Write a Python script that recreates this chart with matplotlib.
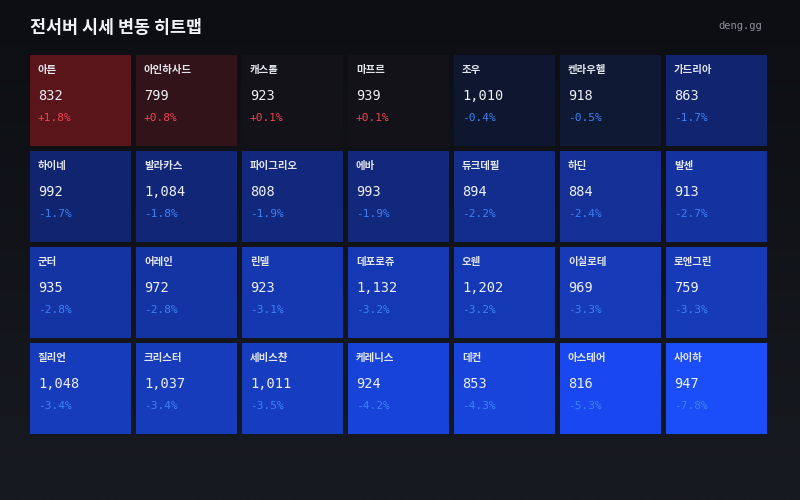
import numpy as np
import matplotlib
matplotlib.use("Agg")
import matplotlib.pyplot as plt
from matplotlib.colors import LinearSegmentedColormap, Normalize
from matplotlib.patches import Rectangle

plt.rcParams['font.family'] = ['Noto Sans CJK KR', 'DejaVu Sans']

servers = ["아튼", "아인하사드", "캐스톨", "마프르", "조우", "켄라우헬", "가드리아",
           "하이네", "발라카스", "파이그리오", "에바", "듀크데필", "하딘", "발센",
           "군터", "어레인", "린델", "데포로쥬", "오웬", "이실로테", "로엔그린",
           "질리언", "크리스터", "세비스챤", "케레니스", "데컨", "아스테어", "사이하"]
prices = [832, 799, 923, 939, 1010, 918, 863,
          992, 1084, 808, 993, 894, 884, 913,
          935, 972, 923, 1132, 1202, 969, 759,
          1048, 1037, 1011, 924, 853, 816, 947]
changes = [1.8, 0.8, 0.1, 0.1, -0.4, -0.5, -1.7,
           -1.7, -1.8, -1.9, -1.9, -2.2, -2.4, -2.7,
           -2.8, -2.8, -3.1, -3.2, -3.2, -3.3, -3.3,
           -3.4, -3.4, -3.5, -4.2, -4.3, -5.3, -7.8]
ncols = 7

vmin, vmax = -8.0, 2.0
stops = [(-8.0, "#1b4dfa"), (-5.0, "#1947ef"), (-4.0, "#1742d4"), (-3.0, "#1537ac"),
         (-2.0, "#132a86"), (-1.7, "#112470"), (-0.5, "#0f1a36"), (-0.3, "#0e1529"),
         (0.0, "#121319"), (0.1, "#131219"), (0.8, "#32131a"), (2.0, "#611519")]
cmap = LinearSegmentedColormap.from_list(
    "chg", [((v - vmin) / (vmax - vmin), c) for v, c in stops])
norm = Normalize(vmin, vmax)

W, H = 800, 500
fig = plt.figure(figsize=(8, 5), dpi=100)

# background gradient
bg = fig.add_axes([0, 0, 1, 1])
grad = np.linspace(0, 1, 256).reshape(-1, 1)
bgcmap = LinearSegmentedColormap.from_list("bg", ["#0c0e13", "#171a20"])
bg.imshow(grad, aspect='auto', cmap=bgcmap, extent=[0, 1, 0, 1], origin='upper')
bg.set_axis_off()

# grid axes: tiles pitch 106 x 96 px, tile 101 x 91 px
px, py = 106, 96
tw, th = 101, 91
gx0, gy0 = 30, 55
gw, gh = 7 * px - (px - tw), 4 * py - (py - th)
ax = fig.add_axes([gx0 / W, 1 - (gy0 + gh) / H, gw / W, gh / H])
ax.set_xlim(0, gw)
ax.set_ylim(gh, 0)
ax.set_axis_off()

for i, (name, p, c) in enumerate(zip(servers, prices, changes)):
    r, col = divmod(i, ncols)
    x, y = col * px, r * py
    ax.add_patch(Rectangle((x, y), tw, th, facecolor=cmap(norm(c)), edgecolor='none'))
    ax.text(x + 8, y + 15, name, color="#e2e5ec", fontsize=7.5, fontweight='bold',
            va='center', ha='left')
    ax.text(x + 8, y + 41, f"{p:,}", color="#eef0f5", fontsize=9.8,
            family='DejaVu Sans Mono', va='center', ha='left')
    pc = "#ef4452" if c > 0 else "#3b82f6"
    ax.text(x + 8, y + 63, f"{c:+.1f}%", color=pc, fontsize=8,
            family='DejaVu Sans Mono', va='center', ha='left')

fig.text(30 / W, 1 - 28 / H, "전서버 시세 변동 히트맵", color="#f2f3f7", fontsize=12.5,
         fontweight='bold', va='center', ha='left')
fig.text(762 / W, 1 - 26 / H, "deng.gg", color="#8b909a", fontsize=7.5,
         family='DejaVu Sans Mono', va='center', ha='right')

fig.savefig("out.png", dpi=100)
